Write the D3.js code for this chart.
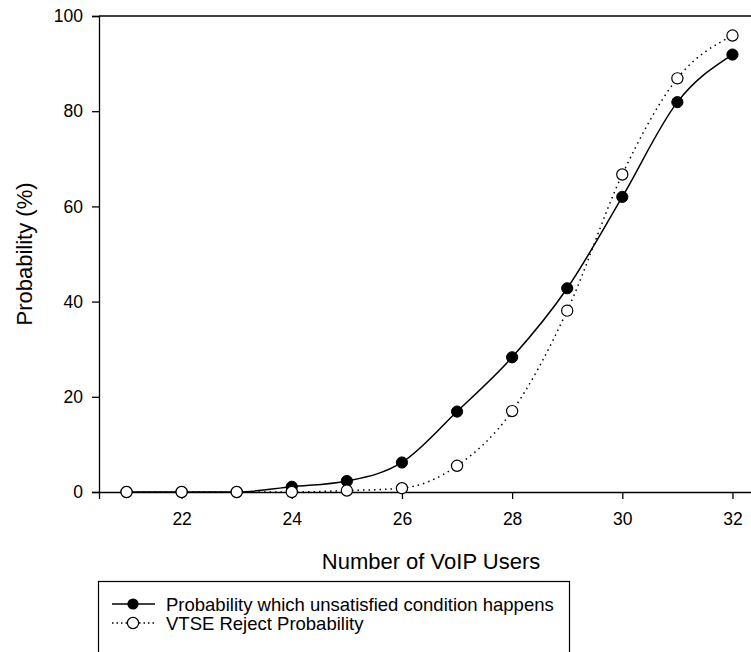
<!DOCTYPE html>
<html><head><meta charset="utf-8">
<script src="https://cdn.jsdelivr.net/npm/d3@7"></script>
<style>body{margin:0;background:#fff}svg{display:block}text{font-family:"Liberation Sans",Arial,sans-serif;fill:#000}</style>
</head><body><svg id="c" width="751" height="652"></svg>
<script>
const users = [21,22,23,24,25,26,27,28,29,30,31,32];
const unsatisfied = [0,0,0,1.1,2.3,6.2,16.9,28.3,42.8,62.0,81.9,91.9];
const rejectProb = [0,0,0,0,0.3,0.8,5.5,17,38.1,66.7,86.9,95.9];
const xTicks = [22,24,26,28,30,32];
const yTicks = [0,20,40,60,80,100];
const seriesNames = ["Probability which unsatisfied condition happens","VTSE Reject Probability"];

const svg = d3.select("#c");
const x = d3.scaleLinear().domain([20.5,32.5]).range([99,760]);
const y = d3.scaleLinear().domain([0,100]).range([492,16]);

// axes
const xAxis = d3.axisBottom(x).tickValues(xTicks).tickSizeOuter(0).tickSize(7).tickPadding(14);
const gx = svg.append("g").attr("transform","translate(0,492)").call(xAxis);
const yAxis = d3.axisLeft(y).tickValues(yTicks).tickSizeOuter(0).tickSize(7).tickPadding(9);
const gy = svg.append("g").attr("transform","translate(99,0)").call(yAxis);
[gx,gy].forEach(g=>{
  g.selectAll("text").style("font-size","17.5px").style("font-family","Liberation Sans, Arial, sans-serif");
  g.select(".domain").attr("stroke","#000").attr("stroke-width",1.3);
  g.selectAll(".tick line").attr("stroke","#000").attr("stroke-width",1.3);
});
// top frame line
svg.append("line").attr("x1",99).attr("x2",751).attr("y1",y(100)).attr("y2",y(100)).attr("stroke","#000").attr("stroke-width",1.3);

// titles
svg.append("text").attr("x",431).attr("y",569).attr("text-anchor","middle").style("font-size","22px").text("Number of VoIP Users");
svg.append("text").attr("transform","translate(32,254) rotate(-90)").attr("text-anchor","middle").style("font-size","22px").text("Probability (%)");

const line = d3.line().x((d,i)=>x(users[i])).y(d=>y(d)).curve(d3.curveMonotoneX);

svg.append("path").datum(rejectProb).attr("d",line).attr("fill","none").attr("stroke","#000").attr("stroke-width",1.5).attr("stroke-dasharray","1.5,4");
svg.append("path").datum(unsatisfied).attr("d",line).attr("fill","none").attr("stroke","#000").attr("stroke-width",1.5);

svg.append("g").selectAll("circle").data(unsatisfied).join("circle")
  .attr("cx",(d,i)=>x(users[i])).attr("cy",d=>y(d)).attr("r",5.6).attr("fill","#000").attr("stroke","#000").attr("stroke-width",1);
svg.append("g").selectAll("circle").data(rejectProb).join("circle")
  .attr("cx",(d,i)=>x(users[i])).attr("cy",d=>y(d)).attr("r",5.6).attr("fill","#fff").attr("stroke","#000").attr("stroke-width",1.2);

// legend
const lg = svg.append("g");
lg.append("rect").attr("x",98.5).attr("y",581.5).attr("width",471).attr("height",90).attr("fill","#fff").attr("stroke","#000").attr("stroke-width",1.2);
const ly = [604,623];
lg.append("line").attr("x1",112).attr("x2",155).attr("y1",ly[0]).attr("y2",ly[0]).attr("stroke","#000").attr("stroke-width",1.5);
lg.append("circle").attr("cx",133).attr("cy",ly[0]).attr("r",5.6).attr("fill","#000");
lg.append("line").attr("x1",112).attr("x2",155).attr("y1",ly[1]).attr("y2",ly[1]).attr("stroke","#000").attr("stroke-width",1.5).attr("stroke-dasharray","1.5,3");
lg.append("circle").attr("cx",133).attr("cy",ly[1]).attr("r",5.6).attr("fill","#fff").attr("stroke","#000").attr("stroke-width",1.2);
seriesNames.forEach((n,i)=>{
  lg.append("text").attr("x",166).attr("y",ly[i]+6.5).style("font-size","18.5px").text(n);
});
</script></body></html>
